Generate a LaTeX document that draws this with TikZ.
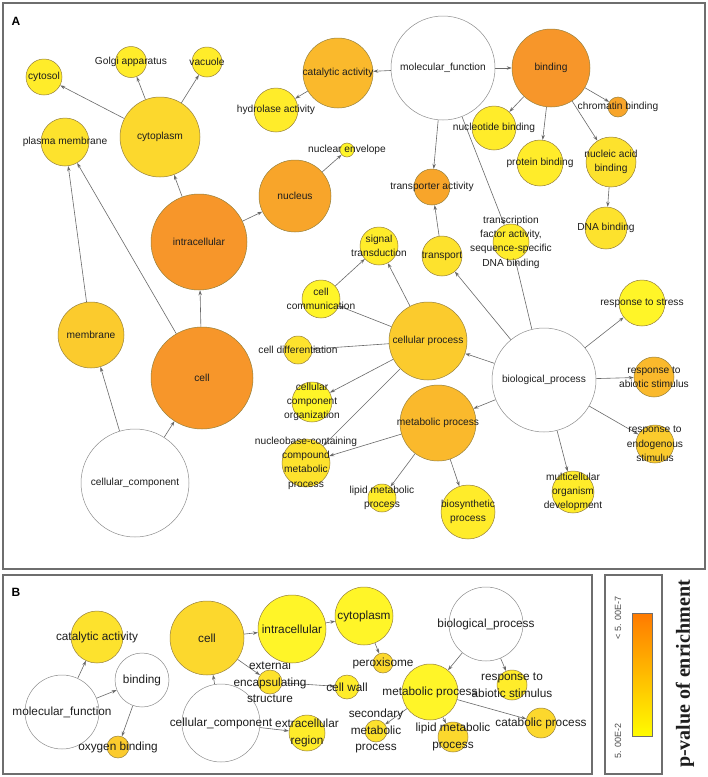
\documentclass[tikz,border=0pt]{standalone}
\usepackage{fontspec}
\setmainfont{Liberation Sans}
\newfontfamily\serifbold{Liberation Serif}
\usetikzlibrary{arrows.meta}
\pgfdeclarelayer{bg}
\pgfsetlayers{bg,main}
\definecolor{L1}{RGB}{255,245,40}
\definecolor{L2}{RGB}{255,236,42}
\definecolor{L3}{RGB}{253,226,45}
\definecolor{L4}{RGB}{252,216,45}
\definecolor{L5}{RGB}{251,203,45}
\definecolor{L6}{RGB}{250,185,44}
\definecolor{L7}{RGB}{248,165,42}
\definecolor{L8}{RGB}{247,150,42}
\definecolor{bubedge}{RGB}{150,128,60}
\definecolor{whiteedge}{RGB}{140,140,140}
\definecolor{edgegray}{RGB}{105,105,105}
\definecolor{txt}{RGB}{30,30,30}
\definecolor{frame}{RGB}{110,110,110}
\definecolor{barTop}{RGB}{255,122,0}
\definecolor{barMid}{RGB}{255,190,0}
\definecolor{barBot}{RGB}{255,252,0}
\tikzset{
  bub/.style={circle, inner sep=0pt, draw=bubedge, line width=0.5pt, minimum size=2*#1pt},
  wbub/.style={circle, inner sep=0pt, draw=whiteedge, fill=white, line width=0.5pt, minimum size=2*#1pt},
  la/.style={font=\fontsize{10.2}{14.3}\selectfont, text=txt, align=center, inner sep=0pt},
  lb/.style={font=\fontsize{11.8}{16.5}\selectfont, text=txt, align=center, inner sep=0pt},
  ed/.style={draw=edgegray, line width=0.6pt, -{Stealth[length=5pt,width=3.4pt]}},
  panel/.style={draw=frame, line width=1.2pt},
}
\begin{document}
\begin{tikzpicture}[x=1pt, y=-1pt]
\useasboundingbox (0,0) rectangle (708,777);
% frames
\draw[panel] (3,3) rectangle (705,569);
\draw[panel] (3,575) rectangle (592,774);
\draw[panel] (605,575) rectangle (662,774);
\node[font=\bfseries\fontsize{12}{14}\selectfont] (labA) at (16,21) {A};
\node[font=\bfseries\fontsize{12}{14}\selectfont] (labB) at (16,592) {B};

% ---------- Panel A ----------
\node[bub=18, fill=L2, label={[la]center:cytosol}] (cytosol) at (44,77) {};
\node[bub=15.5, fill=L2, label={[la]center:Golgi apparatus}] (golgi) at (131,62) {};
\node[bub=15, fill=L2, label={[la]center:vacuole}] (vacuole) at (207,62) {};
\node[bub=40, fill=L4, label={[la]center:cytoplasm}] (cytoplasm) at (160,137) {};
\node[bub=24, fill=L3, label={[la]center:plasma membrane}] (plasmamem) at (65,142) {};
\node[bub=35, fill=L6, label={[la]center:catalytic activity}] (catalytic) at (338,73) {};
\node[bub=22, fill=L2, label={[la]center:hydrolase activity}] (hydrolase) at (276,110) {};
\node[bub=7, fill=L1, label={[la]center:nuclear envelope}] (nucenv) at (347,150) {};
\node[bub=36, fill=L7, label={[la]center:nucleus}] (nucleus) at (295,196) {};
\node[bub=48, fill=L8, label={[la]center:intracellular}] (intracell) at (199,242) {};
\node[wbub=52, label={[la]center:molecular\_function}] (molfun) at (443,68) {};
\node[bub=39, fill=L8, label={[la]center:binding}] (binding) at (551,68) {};
\node[bub=10, fill=L7, label={[la]center:chromatin binding}] (chromatin) at (618,107) {};
\node[bub=22, fill=L2, label={[la]center:nucleotide binding}] (nucleotide) at (494,128) {};
\node[bub=23, fill=L2, label={[la]center:protein binding}] (protein) at (540,163) {};
\node[bub=25, fill=L3, label={[la]center:{nucleic acid\\binding}}] (nucleic) at (611,162) {};
\node[bub=21, fill=L3, label={[la]center:DNA binding}] (dna) at (606,228) {};
\node[bub=18, fill=L7, label={[la]center:transporter activity}] (transporteract) at (432,187) {};
\node[bub=20, fill=L3, label={[la]center:transport}] (transport) at (442,256) {};
\node[bub=18, fill=L2, label={[la]center:{transcription\\factor activity,\\sequence-specific\\DNA binding}}] (tf) at (511,242) {};
\node[bub=19, fill=L2, label={[la]center:{signal\\transduction}}] (signal) at (379,246) {};
\node[bub=19, fill=L1, label={[la]center:{cell\\communication}}] (cellcomm) at (321,299) {};
\node[bub=39, fill=L5, label={[la]center:cellular process}] (cellproc) at (428,341) {};
\node[bub=14, fill=L3, label={[la]center:cell differentiation}] (celldiff) at (298,350) {};
\node[bub=20, fill=L1, label={[la]center:{cellular\\component\\organization}}] (cco) at (312,402) {};
\node[bub=24, fill=L3, label={[la]center:{nucleobase-containing\\compound\\metabolic\\process}}] (nucleobase) at (306,463) {};
\node[bub=38, fill=L6, label={[la]center:metabolic process}] (metproc) at (438,423) {};
\node[bub=14, fill=L2, label={[la]center:{lipid metabolic\\process}}] (lipid) at (382,498) {};
\node[bub=27, fill=L2, label={[la]center:{biosynthetic\\process}}] (biosyn) at (468,512) {};
\node[wbub=52, label={[la]center:biological\_process}] (bioproc) at (544,380) {};
\node[bub=23, fill=L1, label={[la]center:response to stress}] (stress) at (642,303) {};
\node[bub=20, fill=L6, label={[la]center:{response to\\abiotic stimulus}}] (abiotic) at (654,377) {};
\node[bub=19, fill=L5, label={[la]center:{response to\\endogenous\\stimulus}}] (endog) at (655,444) {};
\node[bub=21, fill=L2, label={[la]center:{multicellular\\organism\\development}}] (multicell) at (573,492) {};
\node[bub=33, fill=L5, label={[la]center:membrane}] (membrane) at (91,335) {};
\node[bub=51, fill=L8, label={[la]center:cell}] (cell) at (202,378) {};
\node[wbub=54, label={[la]center:cellular\_component}] (cellcomp) at (135,483) {};

% ---------- Panel B ----------
\node[bub=26, fill=L3, label={[lb]center:catalytic activity}] (Bcat) at (97,637) {};
\node[wbub=37, label={[lb]center:molecular\_function}] (Bmf) at (62,712) {};
\node[wbub=27, label={[lb]center:binding}] (Bbinding) at (142,680) {};
\node[bub=11, fill=L5, label={[lb]center:oxygen binding}] (Boxy) at (118,747) {};
\node[bub=37, fill=L4, label={[lb]center:cell}] (Bcell) at (207,638) {};
\node[wbub=39, label={[lb]center:cellular\_component}] (Bcc) at (221,723) {};
\node[bub=12, fill=L3, label={[lb]center:{external\\encapsulating\\structure}}] (Bext) at (270,682) {};
\node[bub=18, fill=L2, label={[lb]center:{extracellular\\region}}] (Bextra) at (307,733) {};
\node[bub=34, fill=L1, label={[lb]center:intracellular}] (Bintra) at (292,629) {};
\node[bub=29, fill=L1, label={[lb]center:cytoplasm}] (Bcyto) at (364,616) {};
\node[bub=10, fill=L4, label={[lb]center:peroxisome}] (Bperox) at (383,663) {};
\node[bub=12, fill=L2, label={[lb]center:cell wall}] (Bwall) at (347,687) {};
\node[bub=28, fill=L1, label={[lb]center:metabolic process}] (Bmet) at (430,692) {};
\node[bub=11, fill=L3, label={[lb]center:{secondary\\metabolic\\process}}] (Bsec) at (376,731) {};
\node[bub=15, fill=L4, label={[lb]center:{lipid metabolic\\process}}] (Blipid) at (453,737) {};
\node[wbub=37, label={[lb]center:biological\_process}] (Bbp) at (486,624) {};
\node[bub=15, fill=L2, label={[lb]center:{response to\\abiotic stimulus}}] (Babiotic) at (512,685) {};
\node[bub=15, fill=L4, label={[lb]center:catabolic process}] (Bcatab) at (541,723) {};

% ---------- Legend ----------
\shade[top color=barTop, middle color=barMid, bottom color=barBot] (632,613) rectangle (652,736);
\draw[draw=frame, line width=0.6pt] (632,613) rectangle (652,736);
\node[rotate=90, font=\fontsize{9}{10}\selectfont, text=txt!80] (hi) at (618,618) {< 5. 00E-7};
\node[rotate=90, font=\fontsize{9}{10}\selectfont, text=txt!80] (lo) at (618,741) {5. 00E-2};
\node[rotate=90, font=\serifbold\bfseries\fontsize{20}{24}\selectfont, text=txt] (title) at (685,674) {p-value of enrichment};

% ---------- Edges ----------
\begin{pgfonlayer}{bg}
\fill[white] (0,0) rectangle (708,777);
\draw[ed] (cytoplasm) -- (cytosol);
\draw[ed] (cytoplasm) -- (golgi);
\draw[ed] (cytoplasm) -- (vacuole);
\draw[ed] (intracell) -- (cytoplasm);
\draw[ed] (intracell) -- (nucleus);
\draw[ed] (nucleus) -- (nucenv);
\draw[ed] (cell) -- (intracell);
\draw[ed] (cell) -- (plasmamem);
\draw[ed] (membrane) -- (plasmamem);
\draw[ed] (cellcomp) -- (membrane);
\draw[ed] (cellcomp) -- (cell);
\draw[ed] (catalytic) -- (hydrolase);
\draw[ed] (molfun) -- (catalytic);
\draw[ed] (molfun) -- (binding);
\draw[ed] (molfun) -- (transporteract);
\draw[ed] (molfun) -- (tf);
\draw[ed] (binding) -- (nucleotide);
\draw[ed] (binding) -- (protein);
\draw[ed] (binding) -- (nucleic);
\draw[ed] (binding) -- (chromatin);
\draw[ed] (nucleic) -- (dna);
\draw[ed] (transport) -- (transporteract);
\draw[ed] (bioproc) -- (transport);
\draw[ed] (bioproc) -- (tf);
\draw[ed] (bioproc) -- (cellproc);
\draw[ed] (bioproc) -- (metproc);
\draw[ed] (bioproc) -- (stress);
\draw[ed] (bioproc) -- (abiotic);
\draw[ed] (bioproc) -- (endog);
\draw[ed] (bioproc) -- (multicell);
\draw[ed] (cellproc) -- (signal);
\draw[ed] (cellproc) -- (cellcomm);
\draw[ed] (cellproc) -- (celldiff);
\draw[ed] (cellproc) -- (cco);
\draw[ed] (cellproc) -- (nucleobase);
\draw[ed] (cellcomm) -- (signal);
\draw[ed] (metproc) -- (nucleobase);
\draw[ed] (metproc) -- (lipid);
\draw[ed] (metproc) -- (biosyn);
% B
\draw[ed] (Bmf) -- (Bcat);
\draw[ed] (Bmf) -- (Bbinding);
\draw[ed] (Bbinding) -- (Boxy);
\draw[ed] (Bcc) -- (Bcell);
\draw[ed] (Bcell) -- (Bintra);
\draw[ed] (Bcell) -- (Bext);
\draw[ed] (Bcc) -- (Bextra);
\draw[ed] (Bext) -- (Bwall);
\draw[ed] (Bintra) -- (Bcyto);
\draw[ed] (Bcyto) -- (Bperox);
\draw[ed] (Bbp) -- (Bmet);
\draw[ed] (Bbp) -- (Babiotic);
\draw[ed] (Bmet) -- (Bsec);
\draw[ed] (Bmet) -- (Blipid);
\draw[ed] (Bmet) -- (Bcatab);
\end{pgfonlayer}
\end{tikzpicture}
\end{document}
